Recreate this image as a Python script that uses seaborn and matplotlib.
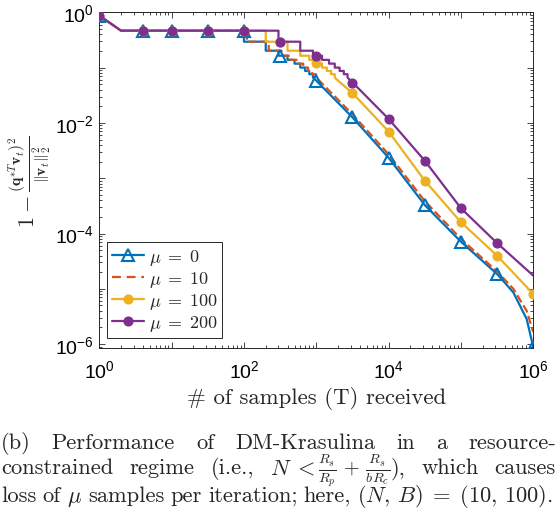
import numpy as np
import pandas as pd
import matplotlib
matplotlib.use("Agg")
import matplotlib.pyplot as plt
import seaborn as sns
from matplotlib.lines import Line2D
from matplotlib.ticker import FixedLocator, FuncFormatter, NullFormatter

# ---------------- data ----------------
labels = [r"$\mu\;=\;0$", r"$\mu\;=\;10$", r"$\mu\;=\;100$", r"$\mu\;=\;200$"]
marker_T = [1, 4, 10, 32, 100, 316, 1000, 3162, 10000, 31623, 100000, 316228, 1000000]

head_T = [1, 2]
head_v = [0.87, 0.465]

# mu = 0
blue_step_T = [100, 200, 300, 400, 500, 600, 700, 800, 900]
blue_step_v = [0.294, 0.202, 0.164, 0.138, 0.118, 0.100, 0.087, 0.076, 0.066]
blue_tail_T = [1000, 3162, 10000, 31623, 100000, 316228, 530000, 810000, 1000000]
blue_tail_v = [0.058, 0.0126, 0.00234, 3.27e-4, 7.1e-5, 1.85e-5, 8.6e-6, 2.84e-6, 8.8e-7]
blue_mk_v = [0.87, 0.465, 0.465, 0.465, 0.465, 0.164, 0.058, 0.0126, 0.00234, 3.27e-4, 7.1e-5, 1.85e-5, 8.8e-7]

# mu = 10
orange_step_T = [110, 220, 330, 440, 550, 660, 770, 880, 990]
orange_step_v = [0.294, 0.202, 0.164, 0.138, 0.118, 0.100, 0.087, 0.076, 0.066]
orange_tail_T = [1100, 3162, 10000, 31623, 100000, 316228, 530000, 810000, 1000000]
orange_tail_v = [0.058, 0.0143, 0.0027, 3.85e-4, 8.0e-5, 2.05e-5, 1.0e-5, 4.0e-6, 1.65e-6]

# mu = 100
yellow_step_T = [200, 400, 600, 800, 1000, 1200, 1400, 1600, 1800]
yellow_step_v = [0.294, 0.202, 0.164, 0.138, 0.118, 0.100, 0.087, 0.076, 0.066]
yellow_tail_T = [2000, 3162, 10000, 31623, 100000, 316228, 1000000]
yellow_tail_v = [0.058, 0.0347, 0.00699, 9.0e-4, 1.6e-4, 3.97e-5, 8.05e-6]
yellow_mk_v = [0.87, 0.465, 0.465, 0.465, 0.465, 0.294, 0.121, 0.0347, 0.00699, 9.0e-4, 1.6e-4, 3.97e-5, 8.05e-6]

# mu = 200
purple_step_T = [300, 600, 900, 1200, 1500, 1800, 2100, 2400, 2700]
purple_step_v = [0.294, 0.202, 0.164, 0.138, 0.118, 0.100, 0.087, 0.076, 0.066]
purple_tail_T = [3000, 10000, 31623, 100000, 316228, 1000000]
purple_tail_v = [0.058, 0.0118, 0.00207, 2.86e-4, 6.7e-5, 1.73e-5]
purple_mk_v = [0.87, 0.465, 0.465, 0.465, 0.465, 0.294, 0.164, 0.0527, 0.0118, 0.00207, 2.86e-4, 6.7e-5]

C_BLUE, C_ORANGE, C_YELLOW, C_PURPLE = "#0072BD", "#D95319", "#EDB120", "#7E2F8E"


def stair_path(hT, hv, sT, sv, tT, tv):
    xs, ys = list(hT), list(hv)
    for t, v in zip(sT, sv):
        xs += [t, t]
        ys += [ys[-1], v]
    xs += list(tT)
    ys += list(tv)
    return xs, ys


# ---------------- style ----------------
sns.set_style("ticks")
plt.rcParams["font.family"] = ["Liberation Sans", "DejaVu Sans"]
plt.rcParams["mathtext.fontset"] = "cm"
plt.rcParams["axes.edgecolor"] = "#262626"
plt.rcParams["axes.linewidth"] = 0.7

W, H = 558, 510
fig = plt.figure(figsize=(W / 100, H / 100), dpi=100)
ax = fig.add_axes([99.3 / W, 1 - 349 / H, (533.3 - 99.3) / W, (349 - 13.3) / H])
ax.set_xscale("log")
ax.set_yscale("log")

LW = 1.6
series = [
    (blue_step_T, blue_step_v, blue_tail_T, blue_tail_v, C_BLUE, "-"),
    (orange_step_T, orange_step_v, orange_tail_T, orange_tail_v, C_ORANGE, "--"),
    (yellow_step_T, yellow_step_v, yellow_tail_T, yellow_tail_v, C_YELLOW, "-"),
    (purple_step_T, purple_step_v, purple_tail_T, purple_tail_v, C_PURPLE, "-"),
]
markers = {
    0: dict(T=marker_T, v=blue_mk_v, marker="^", ms=8, mfc="none", mew=1.5),
    2: dict(T=marker_T, v=yellow_mk_v, marker="o", ms=6.3, mfc=C_YELLOW, mew=1.0),
    3: dict(T=marker_T[:len(purple_mk_v)], v=purple_mk_v, marker="o", ms=6.3, mfc=C_PURPLE, mew=1.0),
}

for i, (sT, sv, tT, tv, c, ls) in enumerate(series):
    xs, ys = stair_path(head_T, head_v, sT, sv, tT, tv)
    df = pd.DataFrame({"T": xs, "v": ys})
    sns.lineplot(data=df, x="T", y="v", sort=False, estimator=None, color=c,
                 linewidth=LW, linestyle=ls, ax=ax, legend=False,
                 **({"dashes": (4, 2.6)} if ls == "--" else {}))
    if i in markers:
        m = markers[i]
        ax.plot(m["T"], m["v"], linestyle="none", marker=m["marker"], ms=m["ms"],
                mfc=m["mfc"], mec=c, mew=m["mew"], zorder=3 + i)

ax.set_xlim(1, 1e6)
ax.set_ylim(10 ** -6.07, 1)

# ticks
ax.xaxis.set_major_locator(FixedLocator([10.0 ** k for k in range(0, 7)]))
ax.yaxis.set_major_locator(FixedLocator([10.0 ** -k for k in range(0, 7)]))


def fmt(v, pos):
    e = int(round(np.log10(v)))
    return r"$\mathdefault{10^{%d}}$" % e if e % 2 == 0 else ""


ax.xaxis.set_major_formatter(FuncFormatter(fmt))
ax.yaxis.set_major_formatter(FuncFormatter(fmt))
ax.xaxis.set_minor_formatter(NullFormatter())
ax.yaxis.set_minor_formatter(NullFormatter())
ax.tick_params(which="both", direction="in", top=True, right=True, colors="#262626",
               labelcolor="black", width=0.6)
ax.tick_params(which="major", length=4.0, labelsize=14)
ax.tick_params(which="minor", length=2.2)
ax.tick_params(axis="x", which="major", pad=8)
ax.tick_params(axis="y", which="major", pad=4)
for s in ax.spines.values():
    s.set_visible(True)

ax.set_xlabel("# of samples (T) received", fontsize=16.4, family="cmr10")
ax.xaxis.set_label_coords(0.5, -0.112)
ax.set_ylabel(r"$1-\frac{(\mathbf{q}^{*T}\mathbf{v}_t)^2}{\|\mathbf{v}_t\|_2^2}$", fontsize=16)
ax.yaxis.set_label_coords(-0.107, 0.5)

handles = [
    Line2D([], [], color=C_BLUE, lw=LW, marker="^", ms=8, mfc="none", mew=1.5),
    Line2D([], [], color=C_ORANGE, lw=LW, linestyle="--", dashes=(4, 2.6)),
    Line2D([], [], color=C_YELLOW, lw=LW, marker="o", ms=6.3, mfc=C_YELLOW),
    Line2D([], [], color=C_PURPLE, lw=LW, marker="o", ms=6.3, mfc=C_PURPLE),
]
leg = ax.legend(handles, labels, loc="lower left", bbox_to_anchor=(0.018, 0.03),
                borderaxespad=0, fontsize=13, handlelength=1.8, handletextpad=0.25,
                borderpad=0.25, labelspacing=0.12, fancybox=False, framealpha=1,
                edgecolor="#262626")
leg.get_frame().set_linewidth(0.7)

# ---------------- caption ----------------
CAP = 16.2
line1 = ["(b)", "Performance", "of", "DM-Krasulina", "in", "a", "resource-"]
line2 = ["constrained", "regime", "(i.e.,", r"$N\;<$",
         (r"$\frac{R_s}{R_p}\,+\,\frac{R_s}{bR_c}$", 14.6), "),", "which", "causes"]
line3 = ["loss", "of", r"$\mu$", "samples", "per", "iteration;", "here,",
         r"$(N,\,B)\;=\;(10,\,100)$."]


def justify(words, y_base, x0, x1, fixed=None):
    """fixed: {index_of_word: fixed gap after it (px)}; other gaps are stretched."""
    fixed = fixed or {}
    items = [w if isinstance(w, tuple) else (w, CAP) for w in words]
    ts = [fig.text(0, 1 - y_base / H, w, fontsize=s, family="cmr10",
                   math_fontfamily="cm", va="baseline", ha="left") for w, s in items]
    r = fig.canvas.get_renderer()
    widths = [t.get_window_extent(r).width for t in ts]
    n_gaps = len(words) - 1 - len(fixed)
    gap = (x1 - x0 - sum(widths) - sum(fixed.values())) / n_gaps
    x = x0
    for k, (t, w) in enumerate(zip(ts, widths)):
        t.set_x(x / W)
        x += w + fixed.get(k, gap)


justify(line1, 449.5, 1, 556)
justify(line2, 474.5, 1, 556, fixed={3: 3.0, 4: 0.0})
justify(line3, 502, 1, 553)

fig.savefig("out.png", dpi=100)
